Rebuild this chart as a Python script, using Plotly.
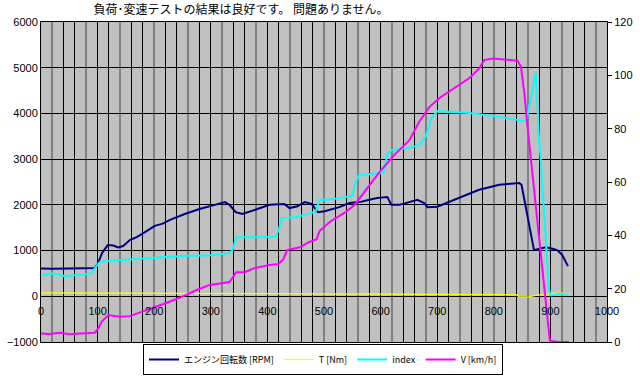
import plotly.graph_objects as go

# ---- data ----
rpm_x = [0, 20, 50, 80, 95, 100, 108, 118, 128, 136, 145, 157, 170, 183, 201, 215, 228, 254, 280, 307,
         325, 333, 344, 356, 377, 404, 430, 439, 453, 466, 478, 489, 501, 527, 545, 563, 580, 594, 612,
         619, 633, 651, 665, 677, 683, 700, 720, 739, 774, 810, 845, 849, 857, 864, 871, 877, 892, 901,
         912, 921, 931]
rpm_y = [610, 600, 610, 610, 620, 700, 950, 1120, 1110, 1070, 1100, 1230, 1300, 1400, 1540, 1590, 1670,
         1800, 1910, 2000, 2060, 2000, 1840, 1800, 1890, 2000, 2020, 1930, 1970, 2060, 2020, 1840, 1860,
         1950, 2040, 2060, 2110, 2150, 2170, 2000, 2000, 2060, 2110, 2040, 1950, 1960, 2060, 2150, 2330,
         2440, 2480, 2440, 1920, 1500, 1010, 1030, 1070, 1050, 1010, 900, 660]

t_x = [0, 100, 200, 300, 400, 500, 600, 700, 800, 840, 845, 860, 870, 880, 895, 900, 920, 935]
t_y = [75, 72, 68, 58, 48, 45, 42, 40, 38, 35, -10, -15, 10, 30, 30, 60, 70, 55]

idx_x = [0, 19, 30, 42, 60, 77, 89, 95, 104, 122, 142, 166, 189, 210, 250, 300, 330, 338, 345, 380,
         415, 420, 425, 450, 475, 485, 492, 530, 550, 556, 562, 605, 612, 620, 650, 668, 680, 690, 700,
         757, 810, 845, 855, 858, 874, 875, 877, 880, 883, 897, 900, 915, 932]
idx_y = [460, 500, 480, 440, 460, 475, 500, 610, 750, 775, 790, 810, 825, 850, 880, 900, 940, 1000,
         1290, 1290, 1310, 1450, 1710, 1730, 1820, 1850, 2100, 2150, 2200, 2500, 2650, 2700, 3100, 3200,
         3250, 3300, 3500, 3900, 4050, 4010, 3930, 3850, 3830, 3860, 4890, 4670, 4150, 3420, 2980, 200,
         20, 50, 40]

v_x = [0, 15, 33, 51, 69, 85, 95, 101, 107, 119, 139, 157, 180, 204, 227, 250, 275, 298, 319, 333,
       338, 345, 360, 377, 404, 420, 428, 435, 457, 474, 487, 492, 510, 536, 554, 571, 598, 624, 651,
       668, 686, 704, 730, 757, 774, 783, 798, 821, 842, 848, 854, 859, 865, 899, 915, 933]
v_y = [3.2, 3.0, 3.5, 2.9, 3.2, 3.3, 3.5, 5, 7.6, 10.1, 9.5, 9.7, 11.4, 13.2, 15.1, 17, 19.5, 21.4, 22,
       22.5, 24, 26.2, 26.2, 27.7, 28.9, 29.3, 31, 34.5, 35.5, 37.5, 38.5, 41.5, 45, 48.4, 51.4, 56.2,
       63.7, 70.1, 75.7, 82.5, 88.1, 91.5, 95.2, 99, 102.5, 105.7, 106.3, 106, 105.5, 103.2, 93.3, 82,
       69.4, 0.5, 0, 0]

names = ["エンジン回転数 [RPM]", "T [Nm]", "index", "V [km/h]"]
colors = ["#000080", "#FFFF00", "#00FFFF", "#FF00FF"]
title_text = "負荷･変速テストの結果は良好です。 問題ありません。"
x_ticks = list(range(0, 1001, 100))

font_num = "Liberation Sans, Arial, sans-serif"
font_jp = "Noto Sans CJK JP, sans-serif"

fig = go.Figure()
fig.add_trace(go.Scatter(x=rpm_x, y=rpm_y, name=names[0], mode="lines",
                         line=dict(color=colors[0], width=2)))
fig.add_trace(go.Scatter(x=t_x, y=t_y, name=names[1], mode="lines",
                         line=dict(color=colors[1], width=1.2)))
fig.add_trace(go.Scatter(x=idx_x, y=idx_y, name=names[2], mode="lines",
                         line=dict(color=colors[2], width=2)))
fig.add_trace(go.Scatter(x=v_x, y=v_y, name=names[3], mode="lines", yaxis="y2",
                         line=dict(color=colors[3], width=2)))
# helper (empty) trace for the label-only x axis
fig.add_trace(go.Scatter(x=[], y=[], xaxis="x2", yaxis="y", showlegend=False, hoverinfo="skip"))

fig.update_layout(
    width=640, height=379,
    margin=dict(l=41, r=33, t=22, b=37, autoexpand=False),
    paper_bgcolor="white",
    plot_bgcolor="#C0C0C0",
    font=dict(family=font_num, size=11, color="black"),
    title=dict(text=title_text, x=241 / 640, xanchor="center", xref="container",
               y=1 - 10 / 379, yanchor="middle", yref="container",
               font=dict(family=font_jp, size=12, color="black")),
    xaxis=dict(range=[0, 1000], tick0=20, dtick=60, showticklabels=False, ticks="",
               showgrid=True, gridcolor="#808080", gridwidth=2, automargin=False,
               minor=dict(tick0=0, dtick=20, showgrid=True, gridcolor="black", gridwidth=1),
               zeroline=False, showline=True, linecolor="black", linewidth=1, mirror=True),
    xaxis2=dict(range=[0, 1000], overlaying="x", anchor="free", position=1 / 7,
                tickvals=x_ticks, ticktext=[str(v) for v in x_ticks], showgrid=False,
                zeroline=False, showline=False, ticks="outside", ticklen=5, automargin=False,
                tickcolor="rgba(0,0,0,0)", tickfont=dict(family=font_num, size=11)),
    yaxis=dict(range=[-1000, 6000], dtick=1000, showgrid=True, gridcolor="black", gridwidth=1,
               zeroline=False, showline=True, linecolor="black", mirror=True, automargin=False,
               ticks="", tickfont=dict(family=font_num, size=11)),
    yaxis2=dict(range=[0, 120], dtick=20, overlaying="y", side="right", showgrid=False,
                zeroline=False, ticks="outside", ticklen=4, tickcolor="black", automargin=False,
                tickfont=dict(family=font_num, size=11)),
    legend=dict(orientation="h", xref="paper", yref="paper",
                x=(323 - 41) / 566, xanchor="center", y=(342 - 344) / 320, yanchor="top",
                bgcolor="white", bordercolor="black", borderwidth=1,
                font=dict(family=font_jp, size=9), itemwidth=30, tracegroupgap=0),
    showlegend=True,
)

fig.write_html("out.html", config={"displayModeBar": False},
               post_script="document.body.style.margin='0';document.body.style.overflow='hidden';")
